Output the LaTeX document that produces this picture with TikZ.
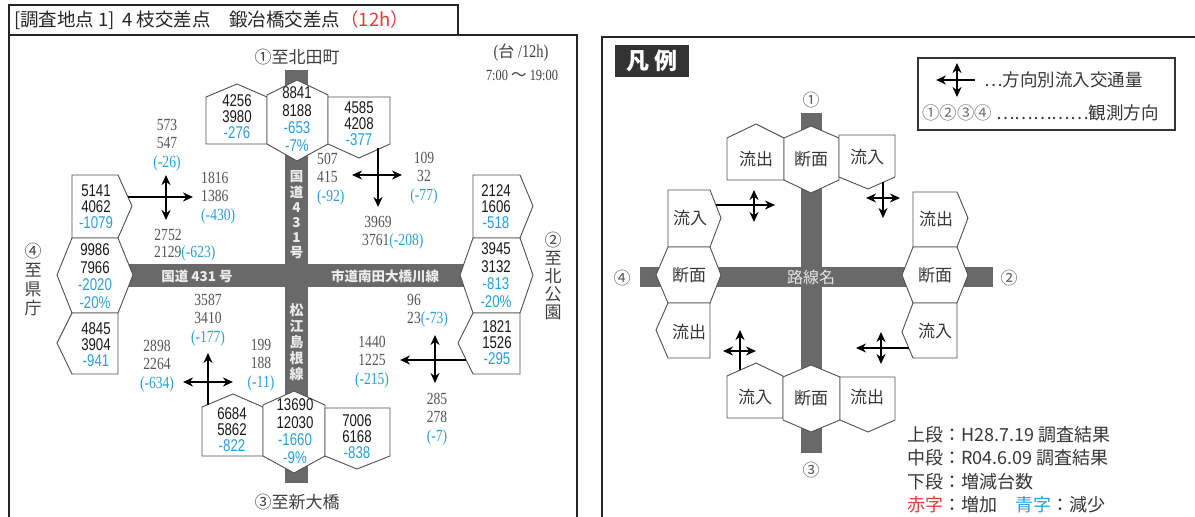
\documentclass[tikz,border=0pt]{standalone}
\usepackage{fontspec}
\setmainfont{Liberation Sans}
\newfontfamily\jp{Noto Sans CJK JP}
\newfontfamily\numf{Liberation Sans}[FakeStretch=0.78]
\newfontfamily\serifn{Liberation Serif}[FakeStretch=0.8]
\usetikzlibrary{arrows.meta}
\definecolor{roadgray}{RGB}{105,105,105}
\definecolor{numblue}{RGB}{38,160,218}
\definecolor{numgray}{RGB}{85,85,85}
\definecolor{edgec}{RGB}{80,80,80}
\definecolor{txt}{RGB}{55,55,55}
\definecolor{redtxt}{RGB}{225,60,60}
\newcommand\numblk[3]{#1\\#2\\\textcolor{numblue}{#3}}
\newcommand\numhex[4]{#1\\#2\\\textcolor{numblue}{#3}\\\textcolor{numblue}{#4}}
\newcommand\gvblk[3]{#1\\#2\\\textcolor{numblue}{(#3)}}
\begin{document}
\begin{tikzpicture}[x=1pt,y=-1pt,
  frm/.style={draw=black!85,line width=1.6pt},
  shp/.style={draw=edgec,line width=0.9pt,fill=white,line join=miter},
  road/.style={fill=roadgray,draw=none},
  arr/.style={line width=2pt,-{Stealth[length=10pt,width=9pt]}},
  darr/.style={line width=2pt,{Stealth[length=10pt,width=9pt]}-{Stealth[length=10pt,width=9pt]}},
  nb/.style={font=\numf\fontsize{17}{16}\selectfont,align=center,inner sep=0pt,text=black!90},
  nbh/.style={font=\numf\fontsize{17}{17.6}\selectfont,align=center,inner sep=0pt,text=black!90},
  gv/.style={font=\serifn\fontsize{17}{18.5}\selectfont,inner sep=0pt,text=numgray},
  lab/.style={font=\jp\fontsize{17}{19}\selectfont,inner sep=0pt,text=black!75},
  rlab/.style={font=\jp\bfseries\fontsize{13.5}{15.2}\selectfont,inner sep=0pt,text=white!92!black},
  lgs/.style={font=\jp\fontsize{17}{19}\selectfont,inner sep=0pt,text=txt},
  lgt/.style={font=\jp\fontsize{17.5}{20}\selectfont,inner sep=0pt,text=txt,anchor=west}]
\useasboundingbox (0,0) rectangle (1195,517);
\clip (0,0) rectangle (1195,517);
\fill[white] (0,0) rectangle (1195,517);

% ---------- left panel frame ----------
\draw[frm] (9,540) -- (9,35) -- (577,35) -- (577,540);
\draw[frm,fill=white] (9,5) rectangle (458,35);
\node[anchor=west,font=\jp\fontsize{18.5}{22}\selectfont,inner sep=0pt,text=black!85] (title) at (14,20)
  {[調査地点 1]\, 4 枝交差点\quad 鍛冶橋交差点\textcolor{redtxt}{（12h）}};

% roads
\fill[road] (285,70) rectangle (308,483);
\fill[road] (128,264) rectangle (465,287);

% top group
\draw[shp] (206,97) -- (237,84) -- (267,97) -- (267,144) -- (206,144) -- cycle;
\draw[shp] (297,80) -- (328,95) -- (328,144) -- (297,161) -- (267,144) -- (267,95) -- cycle;
\draw[shp] (328,97) -- (390,97) -- (390,144) -- (359,158) -- (328,144) -- cycle;
\node[nb] (n1a) at (237,117) {\numblk{4256}{3980}{-276}};
\node[nbh] (n1b) at (297,119) {\numhex{8841}{8188}{-653}{-7\%}};
\node[nb] (n1c) at (359,124) {\numblk{4585}{4208}{-377}};

% left group
\draw[shp] (72,175) -- (118,175) -- (132,206) -- (118,238) -- (72,238) -- cycle;
\draw[shp] (57,275) -- (72,238) -- (118,238) -- (133,275) -- (118,313) -- (72,313) -- cycle;
\draw[shp] (72,313) -- (118,313) -- (118,374) -- (72,374) -- (57,343) -- cycle;
\node[nb] (n4a) at (96,207) {\numblk{5141}{4062}{-1079}};
\node[nbh] (n4b) at (95,276) {\numhex{9986}{7966}{-2020}{-20\%}};
\node[nb] (n4c) at (96,345) {\numblk{4845}{3904}{-941}};

% right group
\draw[shp] (473,175) -- (520,175) -- (533,206) -- (520,238) -- (473,238) -- cycle;
\draw[shp] (460,275) -- (473,238) -- (520,238) -- (533,275) -- (520,313) -- (473,313) -- cycle;
\draw[shp] (473,313) -- (520,313) -- (520,374) -- (473,374) -- (458,343) -- cycle;
\node[nb] (n2a) at (496,207) {\numblk{2124}{1606}{-518}};
\node[nbh] (n2b) at (496,275) {\numhex{3945}{3132}{-813}{-20\%}};
\node[nb] (n2c) at (497,343) {\numblk{1821}{1526}{-295}};

% bottom group
\draw[shp] (202,407) -- (233,394) -- (263,407) -- (263,456) -- (202,456) -- cycle;
\draw[shp] (294,391) -- (325,405) -- (325,456) -- (294,473) -- (263,456) -- (263,405) -- cycle;
\draw[shp] (325,408) -- (390,408) -- (390,456) -- (357,469) -- (325,456) -- cycle;
\node[nb] (n3a) at (232,430) {\numblk{6684}{5862}{-822}};
\node[nbh] (n3b) at (295,431) {\numhex{13690}{12030}{-1660}{-9\%}};
\node[nb] (n3c) at (357,437) {\numblk{7006}{6168}{-838}};

% arrows
\coordinate (a4s) at (128,197); \coordinate (a4e) at (193,197);
\coordinate (a4u) at (166,175); \coordinate (a4d) at (166,220);
\draw[arr] (a4s) -- (a4e); \draw[darr] (a4u) -- (a4d);
\coordinate (a1s) at (378,148); \coordinate (a1e) at (378,207);
\coordinate (a1l) at (352,175); \coordinate (a1r) at (402,175);
\draw[arr] (a1s) -- (a1e); \draw[darr] (a1l) -- (a1r);
\coordinate (a2s) at (466,360); \coordinate (a2e) at (400,360);
\coordinate (a2u) at (435,335); \coordinate (a2d) at (435,383);
\draw[arr] (a2s) -- (a2e); \draw[darr] (a2u) -- (a2d);
\coordinate (a3s) at (208,405); \coordinate (a3e) at (208,353);
\coordinate (a3l) at (183,382); \coordinate (a3r) at (233,382);
\draw[arr] (a3s) -- (a3e); \draw[darr] (a3l) -- (a3r);

% gray counts
\node[gv,align=center] (g1) at (167,145) {\gvblk{573}{547}{-26}};
\node[gv,align=left,anchor=west] (g2) at (201,198) {\gvblk{1816}{1386}{-430}};
\node[gv] (g3) at (168,235) {2752};
\node[gv,anchor=west] (g4) at (154,253) {2129\textcolor{numblue}{(-623)}};
\node[gv,align=left,anchor=west] (g5) at (317,179) {\gvblk{507}{415}{-92}};
\node[gv,align=center] (g6) at (424,178) {\gvblk{109}{32}{-77}};
\node[gv] (g7) at (378,222) {3969};
\node[gv,anchor=west] (g8) at (362,241) {3761\textcolor{numblue}{(-208)}};
\node[gv,anchor=west] (g9) at (407,300) {96};
\node[gv,anchor=west] (g10) at (407,319) {23\textcolor{numblue}{(-73)}};
\node[gv,align=center] (g11) at (372,362) {\gvblk{1440}{1225}{-215}};
\node[gv,align=center] (g12) at (437,419) {\gvblk{285}{278}{-7}};
\node[gv,align=center] (g13) at (208,320) {\gvblk{3587}{3410}{-177}};
\node[gv,align=center] (g14) at (157,366) {\gvblk{2898}{2264}{-634}};
\node[gv,align=center] (g15) at (261,365) {\gvblk{199}{188}{-11}};

% direction labels
\node[lab] (d1) at (297,57) {①至北田町};
\node[lab] (d3) at (297,502) {③至新大橋};
\node[lab,align=center,font=\jp\fontsize{17}{19}\selectfont] (d4) at (33,279) {④\\至\\県\\庁};
\node[lab,align=center,font=\jp\fontsize{17}{18}\selectfont] (d2) at (553,276) {②\\至\\北\\公\\園};
\node[inner sep=0pt,text=black!75,font=\serifn\fontsize{18}{20}\selectfont] (unit) at (521,53) {({\jp\fontsize{16}{20}\selectfont 台} /12h)};
\node[inner sep=0pt,text=black!75,font=\serifn\fontsize{15.5}{18}\selectfont] (time) at (522,75) {7:00 {\jp ～} 19:00};

% road labels
\node[rlab] (r1) at (197,276) {国道 431 号};
\node[rlab] (r2) at (385,276) {市道南田大橋川線};
\node[rlab,align=center] (r3) at (296.5,215) {国\\道\\4\\3\\1\\号};
\node[rlab,align=center,font=\jp\bfseries\fontsize{14}{16}\selectfont] (r4) at (296.5,342) {松\\江\\島\\根\\線};

% ---------- legend panel ----------
\draw[frm] (602,540) -- (602,37) -- (1200,37);
\fill[black!80] (615,45) rectangle (689,77);
\node[font=\jp\bfseries\fontsize{23}{26}\selectfont,text=white,inner sep=0pt] (hanrei) at (652,61) {凡 例};
\draw[line width=1.3pt,draw=black!80] (918,58) rectangle (1175,130);
\coordinate (k1s) at (975,80); \coordinate (k1e) at (936,80);
\coordinate (k1u) at (957,63); \coordinate (k1d) at (957,97);
\draw[arr] (k1s) -- (k1e); \draw[darr] (k1u) -- (k1d);
\node[lgt] (lg1) at (984,80) {…方向別流入交通量};
\node[lgt] (lg2) at (922,113) {{\color{black!55}①②③④} ……………観測方向};

\fill[road] (801,113) rectangle (822,453);
\fill[road] (640,267) rectangle (993,287);
\node[lab,text=black!65] (e1) at (811,100) {①};
\node[lab,text=black!65] (e3) at (811,470) {③};
\node[lab,text=black!65] (e4) at (622,278) {④};
\node[lab,text=black!65] (e2) at (1009,278) {②};
\node[font=\jp\fontsize{16}{18}\selectfont,text=white!90!black,inner sep=0pt] (rosen) at (811,277) {路線名};

% legend shapes top
\draw[shp] (727,138) -- (756,124) -- (784,138) -- (784,180) -- (727,180) -- cycle;
\draw[shp] (811,126) -- (839,138) -- (839,180) -- (811,193) -- (784,180) -- (784,138) -- cycle;
\draw[shp] (839,135) -- (895,135) -- (895,177) -- (868,189) -- (839,177) -- cycle;
\node[lgs] (s1) at (756,159) {流出};
\node[lgs] (s2) at (811,159) {断面};
\node[lgs] (s3) at (867,157) {流入};
% legend shapes left
\draw[shp] (668,190) -- (710,190) -- (721,218) -- (710,247) -- (668,247) -- cycle;
\draw[shp] (656,275) -- (668,247) -- (710,247) -- (721,275) -- (710,303) -- (668,303) -- cycle;
\draw[shp] (668,303) -- (710,303) -- (710,358) -- (668,358) -- (656,330) -- cycle;
\node[lgs] (s4) at (690,218) {流入};
\node[lgs] (s5) at (689,275) {断面};
\node[lgs] (s6) at (689,332) {流出};
% legend shapes right
\draw[shp] (913,192) -- (957,192) -- (968,218) -- (957,247) -- (913,247) -- cycle;
\draw[shp] (902,275) -- (913,247) -- (957,247) -- (968,275) -- (957,303) -- (913,303) -- cycle;
\draw[shp] (913,303) -- (957,303) -- (957,358) -- (913,358) -- (902,332) -- cycle;
\node[lgs] (s7) at (936,219) {流出};
\node[lgs] (s8) at (935,275) {断面};
\node[lgs] (s9) at (935,331) {流入};
% legend shapes bottom
\draw[shp] (727,376) -- (756,363) -- (783,376) -- (783,418) -- (727,418) -- cycle;
\draw[shp] (811,365) -- (840,377) -- (840,420) -- (811,432) -- (783,420) -- (783,377) -- cycle;
\draw[shp] (840,377) -- (895,377) -- (895,420) -- (868,432) -- (840,420) -- cycle;
\node[lgs] (s10) at (755,397) {流入};
\node[lgs] (s11) at (811,398) {断面};
\node[lgs] (s12) at (867,397) {流出};

% legend arrows
\coordinate (b4s) at (716,205); \coordinate (b4e) at (775,205);
\coordinate (b4u) at (754,190); \coordinate (b4d) at (754,222);
\draw[arr] (b4s) -- (b4e); \draw[darr] (b4u) -- (b4d);
\coordinate (b1s) at (883,182); \coordinate (b1e) at (883,218);
\coordinate (b1l) at (866,198); \coordinate (b1r) at (900,198);
\draw[arr] (b1s) -- (b1e); \draw[darr] (b1l) -- (b1r);
\coordinate (b2s) at (909,348); \coordinate (b2e) at (856,348);
\coordinate (b2u) at (881,332); \coordinate (b2d) at (881,364);
\draw[arr] (b2s) -- (b2e); \draw[darr] (b2u) -- (b2d);
\coordinate (b3s) at (740,370); \coordinate (b3e) at (740,330);
\coordinate (b3l) at (723,351); \coordinate (b3r) at (756,351);
\draw[arr] (b3s) -- (b3e); \draw[darr] (b3l) -- (b3r);

% legend notes
\node[lgt,font=\jp\fontsize{18}{20}\selectfont] (t1) at (907,435) {上段：H28.7.19 調査結果};
\node[lgt,font=\jp\fontsize{18}{20}\selectfont] (t2) at (907,458) {中段：R04.6.09 調査結果};
\node[lgt,font=\jp\fontsize{18}{20}\selectfont] (t3) at (907,482) {下段：増減台数};
\node[lgt,font=\jp\fontsize{18}{20}\selectfont] (t4) at (907,505) {\textcolor{redtxt}{赤字}：増加\quad\textcolor{numblue}{青字}：減少};
\end{tikzpicture}
\end{document}
